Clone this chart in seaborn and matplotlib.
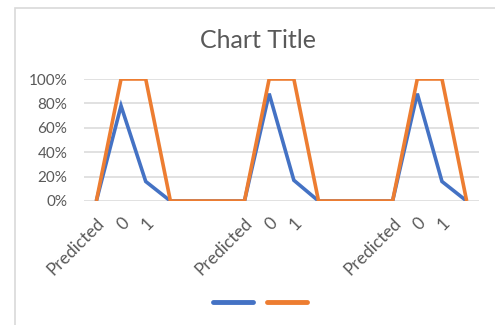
import matplotlib
matplotlib.use("Agg")
import matplotlib.pyplot as plt
from matplotlib.patches import Rectangle
from matplotlib.ticker import PercentFormatter
import seaborn as sns
import pandas as pd

# Category labels along the x axis (blank slots separate the three groups)
categories = ["Predicted", "0", "1", "", "", "",
              "Predicted", "0", "1", "", "", "",
              "Predicted", "0", "1", ""]
series1 = [0.00, 0.78, 0.16, 0.00, 0.00, 0.00,
           0.00, 0.88, 0.17, 0.00, 0.00, 0.00,
           0.00, 0.88, 0.16, 0.00]
series2 = [0.00, 1.00, 1.00, 0.00, 0.00, 0.00,
           0.00, 1.00, 1.00, 0.00, 0.00, 0.00,
           0.00, 1.00, 1.00, 0.00]
series_names = ["Series1", "Series2"]
colors = ["#4472C4", "#ED7D31"]
y_ticks = [0, 0.2, 0.4, 0.6, 0.8, 1.0]

pos = list(range(len(categories)))
df = pd.DataFrame({
    "pos": pos * 2,
    "value": series1 + series2,
    "series": [series_names[0]] * len(pos) + [series_names[1]] * len(pos),
})

sns.set_theme(style="white")
plt.rcParams["font.family"] = ["Lato", "DejaVu Sans"]

W, H = 495, 325
fig = plt.figure(figsize=(W / 100, H / 100), dpi=100)
ax = fig.add_axes([84 / W, 1 - 201 / H, (479 - 84) / W, (201 - 79) / H])

sns.lineplot(data=df, x="pos", y="value", hue="series", palette=colors,
             linewidth=2.6, ax=ax, legend=False,
             solid_joinstyle="miter", solid_capstyle="butt")

ax.set_xlim(-0.5, len(categories) - 0.5)
ax.set_ylim(0, 1)
ax.set_yticks(y_ticks)
ax.yaxis.set_major_formatter(PercentFormatter(1.0, decimals=0))
ax.set_xticks(pos)
ax.set_xticklabels(categories, rotation=45, ha="right", va="top",
                   rotation_mode="anchor")
ax.set_xlabel("")
ax.set_ylabel("")

ax.grid(axis="y", color="#D9D9D9", linewidth=1.1)
ax.set_axisbelow(True)
for s in ax.spines.values():
    s.set_visible(False)
ax.tick_params(axis="y", length=0, pad=12, labelsize=11, labelcolor="#595959")
ax.tick_params(axis="x", length=0, pad=10, labelsize=12.5, labelcolor="#595959")

fig.text(258 / W, 1 - 40 / H, "Chart Title", ha="center", va="center",
         fontsize=18, color="#595959")

# Legend with unnamed series
handles = ax.get_lines()[:2]
leg = fig.legend(handles, ["", ""], loc="center", bbox_to_anchor=(260 / W, 1 - 303 / H),
                 ncol=2, frameon=False, handlelength=2.9, handletextpad=0,
                 columnspacing=1.0, fontsize=10)
for line in leg.get_lines():
    line.set_linewidth(3.5)
    line.set_solid_capstyle("round")

# Chart area border
fig.patches.append(Rectangle((15 / W, -0.1), 1.2, 1.1 - 8 / H + 0.0,
                             transform=fig.transFigure, fill=False,
                             edgecolor="#D9D9D9", linewidth=1.2))

fig.savefig("out.png", dpi=100, facecolor="white")
